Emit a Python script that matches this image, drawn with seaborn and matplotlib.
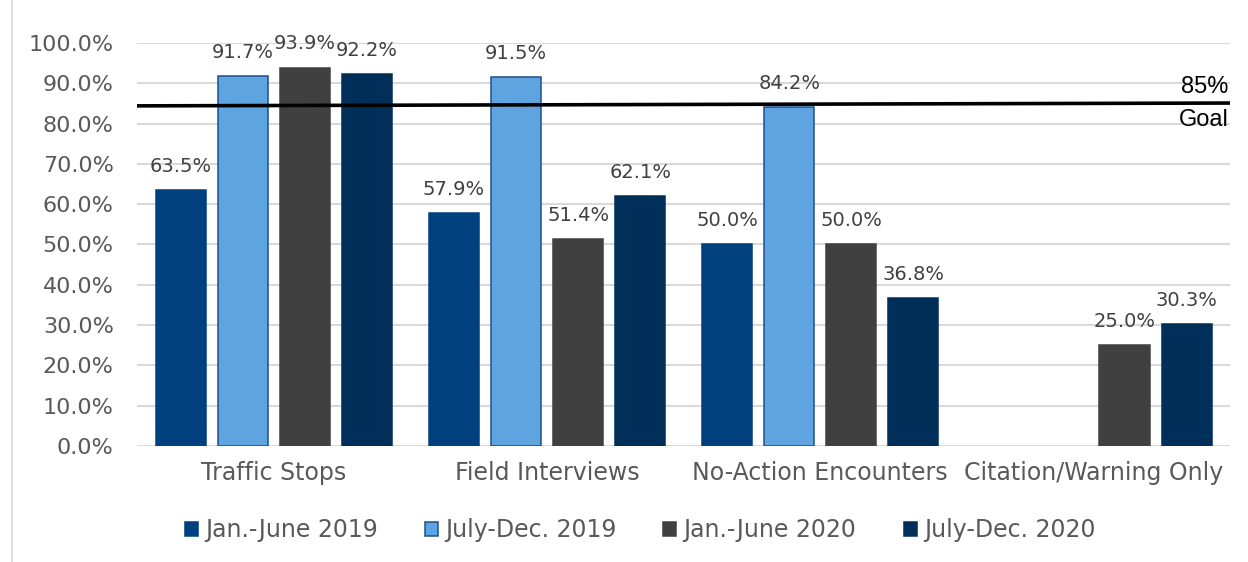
import matplotlib
matplotlib.use("Agg")
import matplotlib.pyplot as plt
import matplotlib.ticker as mticker
from matplotlib.patches import Patch
from matplotlib.lines import Line2D
import seaborn as sns
import pandas as pd
import numpy as np

# Chart data
categories = ["Traffic Stops", "Field Interviews", "No-Action Encounters", "Citation/Warning Only"]
periods = ["Jan.-June 2019", "July-Dec. 2019", "Jan.-June 2020", "July-Dec. 2020"]
jan_jun_2019 = [63.5, 57.9, 50.0, np.nan]
jul_dec_2019 = [91.7, 91.5, 84.2, np.nan]
jan_jun_2020 = [93.9, 51.4, 50.0, 25.0]
jul_dec_2020 = [92.2, 62.1, 36.8, 30.3]
goal_line = [84.4, 85.1]
goal_text = ["85%", "Goal"]

colors = ["#00407E", "#5EA4E1", "#404040", "#002F5A"]
edge_colors = ["#00407E", "#1F4E8C", "#404040", "#002F5A"]
text_color = "#595959"

rows = []
for period, values in zip(periods, [jan_jun_2019, jul_dec_2019, jan_jun_2020, jul_dec_2020]):
    for cat, v in zip(categories, values):
        rows.append({"category": cat, "period": period, "value": v})
df = pd.DataFrame(rows)

sns.set_theme(style="white")
plt.rcParams['font.family'] = ['DejaVu Sans']

fig = plt.figure(figsize=(12.48, 5.62), dpi=100)
ax = fig.add_axes([0.11, 0.2064, 0.8756, 0.7171])

sns.barplot(data=df, x="category", y="value", hue="period", order=categories,
            hue_order=periods, palette=colors, width=0.91, gap=0.195,
            errorbar=None, legend=False, ax=ax, saturation=1)

for cont, ec in zip(ax.containers, edge_colors):
    for bar in cont.patches:
        bar.set_edgecolor(ec)
        bar.set_linewidth(1.1)
        h = bar.get_height()
        if np.isnan(h) or h == 0:
            continue
        ax.annotate(f"{h:.1f}%", (bar.get_x() + bar.get_width() / 2, h),
                    xytext=(0, 17), textcoords="offset points",
                    ha="center", va="center", fontsize=14, color="#404040")

ax.set_xlim(-0.5, 3.5)
ax.set_ylim(0, 100)
ax.yaxis.set_major_locator(mticker.MultipleLocator(10))
ax.yaxis.set_major_formatter(mticker.FuncFormatter(lambda v, p: f"{v:.1f}%"))
ax.yaxis.grid(True, color="#D9D9D9", linewidth=1.5)
ax.set_axisbelow(True)
for s in ax.spines.values():
    s.set_visible(False)
ax.tick_params(axis="y", length=0, pad=17, labelsize=16, labelcolor=text_color)
ax.tick_params(axis="x", length=0, pad=11, labelsize=17, labelcolor=text_color)
ax.set_xlabel("")
ax.set_ylabel("")

# goal line
xl = ax.get_xlim()
ax.plot(xl, goal_line, color="black", linewidth=2.6, zorder=5)
ax.annotate(goal_text[0], (xl[1], goal_line[1]), xytext=(-1, 7.5), textcoords="offset points",
            ha="right", va="baseline", fontsize=17, color="black", family="Liberation Sans")
ax.annotate(goal_text[1], (xl[1], goal_line[1]), xytext=(-1, -16.8), textcoords="offset points",
            ha="right", va="baseline", fontsize=17, color="black", family="Liberation Sans")

handles = [Patch(facecolor=c, edgecolor=e, linewidth=1.1) for c, e in zip(colors, edge_colors)]
leg = fig.legend(handles, periods, loc="center", bbox_to_anchor=(640 / 1248, 1 - 530 / 562),
                 ncol=4, frameon=False, handlelength=0.55, handleheight=0.55,
                 handletextpad=0.3, columnspacing=2.0, fontsize=17)
for t in leg.get_texts():
    t.set_color(text_color)

fig.add_artist(Line2D([12 / 1248, 12 / 1248], [0, 1], color="#D9D9D9", linewidth=1.2))

fig.savefig("out.png", dpi=100, facecolor="white")
